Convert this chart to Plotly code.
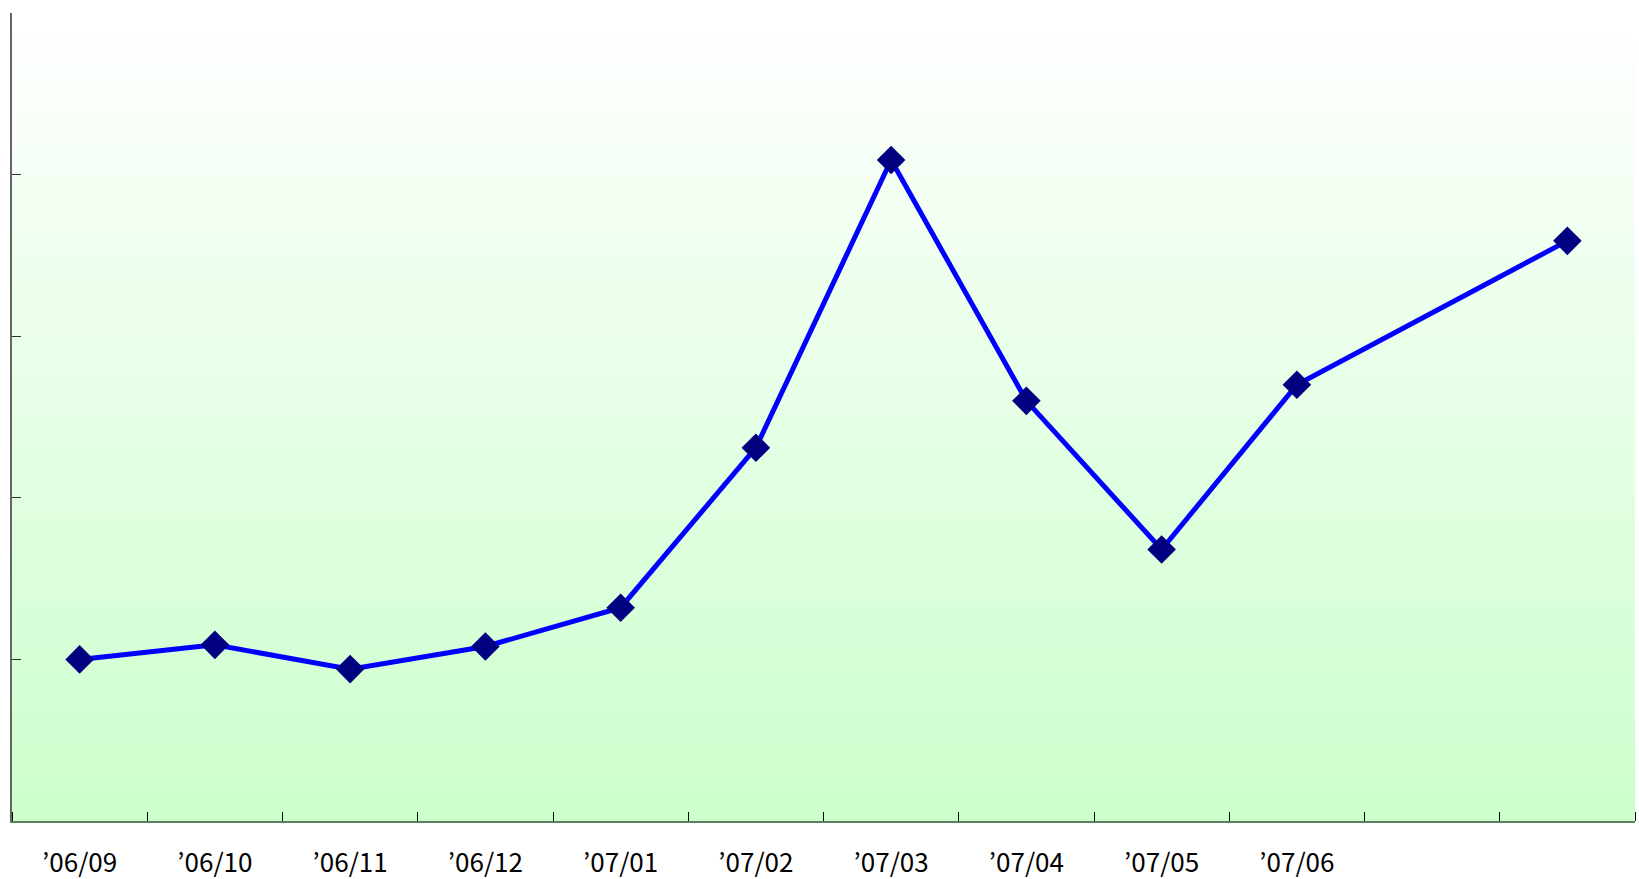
import plotly.graph_objects as go

# Monthly series, one slot per month; the slot for '07/07 has no reading
month_labels = ["’06/09", "’06/10", "’06/11", "’06/12", "’07/01",
                "’07/02", "’07/03", "’07/04", "’07/05", "’07/06"]
slot_count = 12
values = [1.00, 1.09, 0.94, 1.08, 1.32, 2.31, 4.09, 2.60, 1.68, 2.70, None, 3.59]
y_range = [0, 5]

positions = list(range(slot_count))

fig = go.Figure()
fig.add_trace(go.Scatter(
    x=positions,
    y=values,
    mode="lines+markers",
    connectgaps=True,
    line=dict(color="#0000FF", width=5),
    marker=dict(symbol="diamond", size=22, color="#000080",
                line=dict(width=0)),
    hoverinfo="skip",
    showlegend=False,
))

# Vertical white-to-green gradient behind the plot area
steps = 120
top = (255, 255, 255)
bottom = (204, 255, 204)
shapes = []
for i in range(steps):
    t = (i + 0.5) / steps
    r = round(top[0] + (bottom[0] - top[0]) * t)
    g = round(top[1] + (bottom[1] - top[1]) * t)
    b = round(top[2] + (bottom[2] - top[2]) * t)
    shapes.append(dict(
        type="rect", xref="x domain", yref="y domain",
        x0=0, x1=1, y0=1 - (i + 1) / steps, y1=1 - i / steps + 0.002,
        fillcolor=f"rgb({r},{g},{b})", line=dict(width=0), layer="below",
    ))

fig.update_layout(
    width=1639, height=879,
    margin=dict(l=12, r=4, t=13, b=58),
    paper_bgcolor="white",
    plot_bgcolor="rgba(0,0,0,0)",
    shapes=shapes,
    font=dict(family="Noto Sans CJK JP, sans-serif", color="#000000"),
)

fig.update_xaxes(
    range=[-0.5, slot_count - 0.5],
    tickvals=positions[:len(month_labels)],
    ticktext=month_labels,
    ticks="",
    tickfont=dict(size=26, family="Noto Sans CJK JP, sans-serif", color="#000"),
    ticklabelstandoff=18,
    automargin=False,
    showgrid=False, zeroline=False,
    showline=True, linecolor="#5f7f5f", linewidth=2,
    minor=dict(ticks="inside", tick0=-0.5, dtick=1, ticklen=9,
               tickcolor="#000000", tickwidth=1, showgrid=False),
    fixedrange=True,
)
fig.update_yaxes(
    range=y_range,
    dtick=1,
    ticks="inside", ticklen=9, tickcolor="#333333", tickwidth=1,
    showticklabels=False,
    automargin=False,
    showgrid=False, zeroline=False,
    showline=True, linecolor="#666666", linewidth=2,
    fixedrange=True,
)

fig.write_html("out.html")
